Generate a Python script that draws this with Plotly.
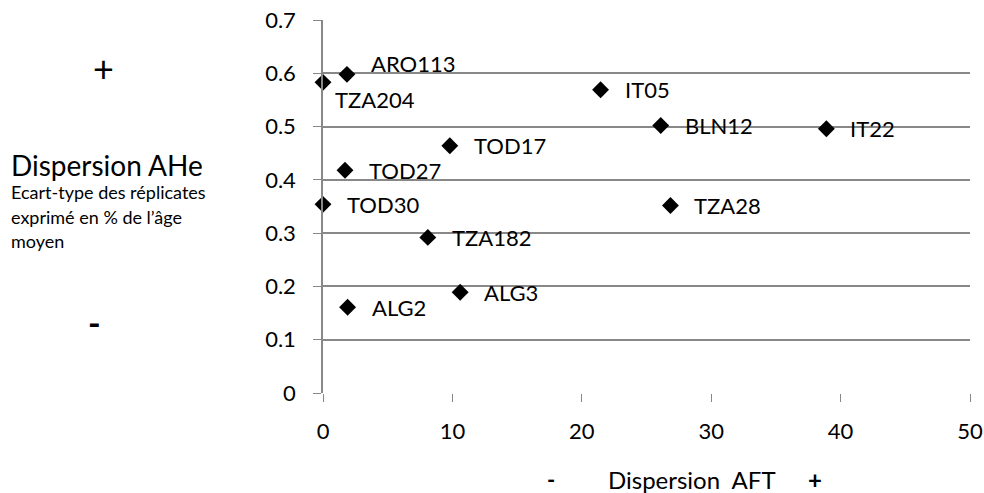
import plotly.graph_objects as go

# Echantillons et dispersions
samples = ["TZA204", "ARO113", "IT05", "TOD17", "TOD27", "TOD30", "TZA182",
           "ALG2", "ALG3", "BLN12", "IT22", "TZA28"]
aft_disp = [0.0, 1.85, 21.45, 9.8, 1.7, 0.0, 8.1, 1.9, 10.6, 26.1, 38.9, 26.85]
ahe_disp = [0.583, 0.598, 0.569, 0.464, 0.418, 0.354, 0.292, 0.161, 0.189, 0.502, 0.496, 0.352]

x_ticks = [0, 10, 20, 30, 40, 50]
y_ticks = [0, 0.1, 0.2, 0.3, 0.4, 0.5, 0.6, 0.7]

W, H = 984, 493
L, R, T, B = 323, 14, 20, 100
FONT = "Lato"
GRID = "#888888"

fig = go.Figure()
fig.add_trace(go.Scatter(
    x=aft_disp, y=ahe_disp, mode="markers",
    marker=dict(symbol="diamond", size=13, color="black"),
    cliponaxis=False,
    hoverinfo="text", text=samples, showlegend=False,
))

# etiquettes des points (a droite, sauf TZA204 en dessous)
for name, xv, yv in zip(samples, aft_disp, ahe_disp):
    xs, ys = 22, 0
    if name == "TZA204":
        xs, ys = 10, -17
    elif name == "ARO113":
        ys = 11
    fig.add_annotation(x=xv, y=yv, text=name, showarrow=False,
                       xanchor="left", yanchor="middle", xshift=xs, yshift=ys,
                       font=dict(family=FONT, size=22, color="black"))


def px_x(p):
    return (p - L) / (W - L - R)


def px_y(p):
    return (H - B - p) / (H - T - B)


# titres d'axes faits a la main
side_texts = [
    ("+", 103, 68, 36, "center"),
    ("Dispersion AHe", 9, 165, 28, "left"),
    ("Ecart-type des réplicates", 9, 192, 18, "left"),
    ("exprimé en % de l’âge", 9, 217, 18, "left"),
    ("moyen", 9, 241, 18, "left"),
    ("<b>-</b>", 94, 322, 34, "center"),
    ("<b>-</b>", 551, 479, 22, "center"),
    ("Dispersion  AFT", 606, 479, 24, "left"),
    ("<b>+</b>", 815, 479, 24, "center"),
]
for txt, xp, yp, sz, anc in side_texts:
    fig.add_annotation(x=px_x(xp), y=px_y(yp), xref="paper", yref="paper",
                       text=txt, showarrow=False, xanchor=anc, yanchor="middle",
                       font=dict(family=FONT, size=sz, color="black"))

fig.update_layout(
    width=W, height=H,
    margin=dict(l=L, r=R, t=T, b=B),
    plot_bgcolor="white", paper_bgcolor="white",
    font=dict(family=FONT, size=22, color="black"),
)
fig.update_xaxes(range=[0, 50], tickvals=x_ticks, showgrid=False, zeroline=False,
                 showline=False, ticks="outside", ticklen=8, tickcolor=GRID,
                 ticklabelstandoff=11, tickfont=dict(size=22),
                 automargin=False, fixedrange=True)
fig.update_yaxes(range=[0, 0.7], tickvals=y_ticks, ticktext=[str(v) for v in y_ticks],
                 showgrid=True, gridcolor=GRID, gridwidth=1.5, zeroline=False,
                 showline=True, linecolor=GRID, linewidth=1.5,
                 ticks="outside", ticklen=8, tickcolor=GRID,
                 ticklabelstandoff=13, tickfont=dict(size=22),
                 automargin=False, fixedrange=True)

fig.write_html("out.html", config={"displayModeBar": False},
               post_script="document.body.style.margin='0';")
